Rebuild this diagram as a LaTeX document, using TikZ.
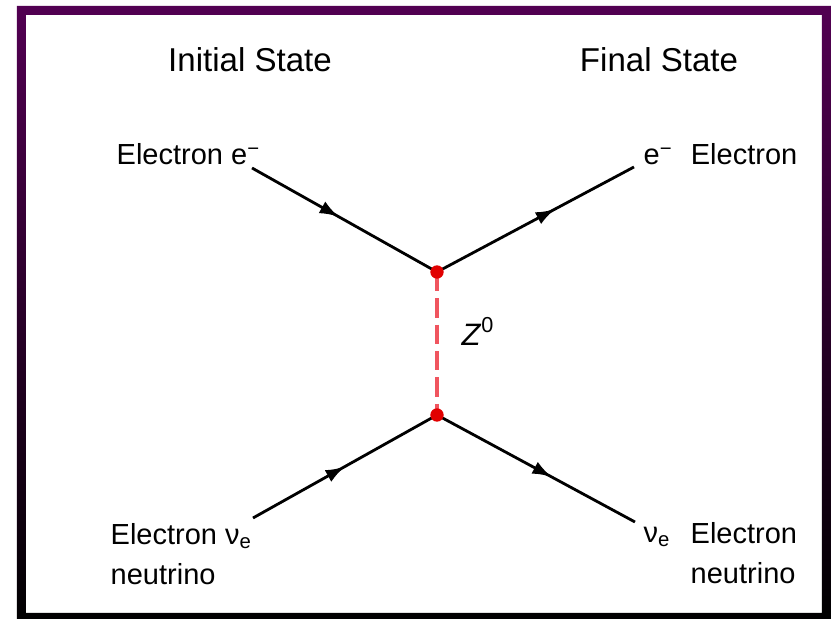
\documentclass[tikz,border=0pt]{standalone}
\usepackage{fontspec}
\setmainfont{Liberation Sans}
\usetikzlibrary{arrows.meta, decorations.markings}
\definecolor{framepurple}{RGB}{82,0,82}
\definecolor{zline}{RGB}{240,85,95}
\definecolor{vertexred}{RGB}{225,0,0}

\begin{document}
\begin{tikzpicture}[x=0.01cm, y=-0.01cm,
    lbl/.style={inner sep=0pt, font=\fontsize{8.25}{11.4}\selectfont},
    ttl/.style={inner sep=0pt, font=\fontsize{9.4}{11}\selectfont},
    fermion/.style={line width=0.8pt,
        decoration={markings, mark=at position #1 with {\arrow{Latex[length=5.5pt,width=3.8pt]}}},
        postaction={decorate}},
    boson/.style={line width=1.4pt, zline, dash pattern=on 5.5pt off 2pt},
    vdot/.style={fill=vertexred}]
    \useasboundingbox (0,0) rectangle (832,619);

    % Rahmen
    \shade[top color=framepurple, bottom color=black, even odd rule]
        (17,6) rectangle (831,622) (26,15) rectangle (822,613);

    % Ueberschriften
    \node[ttl, anchor=base] (initlbl) at (250,72) {Initial State};
    \node[ttl, anchor=base] (finallbl) at (659,72) {Final State};

    % Vertices und Endpunkte
    \coordinate (vtop) at (437,272);
    \coordinate (vbot) at (437,415);
    \coordinate (ein) at (252,168);
    \coordinate (eout) at (634,167);
    \coordinate (nuin) at (253,518);
    \coordinate (nuout) at (635,522);

    % Teilchenlinien
    \draw[fermion=0.47] (ein) -- (vtop);
    \draw[fermion=0.6] (vtop) -- (eout);
    \draw[fermion=0.5] (nuin) -- (vbot);
    \draw[fermion=0.58] (vbot) -- (nuout);
    \draw[boson] (vtop) -- (vbot);
    \foreach \v in {vtop, vbot} {
        \fill[vdot] (\v) circle (1.9pt);
    }

    % Beschriftungen
    \node[lbl, anchor=base west] (einlbl) at (116,165) {Electron e\textsuperscript{−}};
    \node[lbl, anchor=base west] (eoutlbl) at (643,165) {e\textsuperscript{−}\hspace{0.6em}Electron};
    \node[lbl, anchor=base west, font=\fontsize{8.8}{11}\selectfont] (zlbl) at (461,346) {\textit{Z}\textsuperscript{0}};
    \node[lbl, anchor=north west, align=left] (nuinlbl) at (110,523) {Electron ν\textsubscript{e}\\neutrino};
    \node[lbl, anchor=base west] (nuoutsym) at (643,543) {ν\textsubscript{e}};
    \node[lbl, anchor=north west, align=left] (nuoutlbl) at (690,522) {Electron\\neutrino};
\end{tikzpicture}
\end{document}
